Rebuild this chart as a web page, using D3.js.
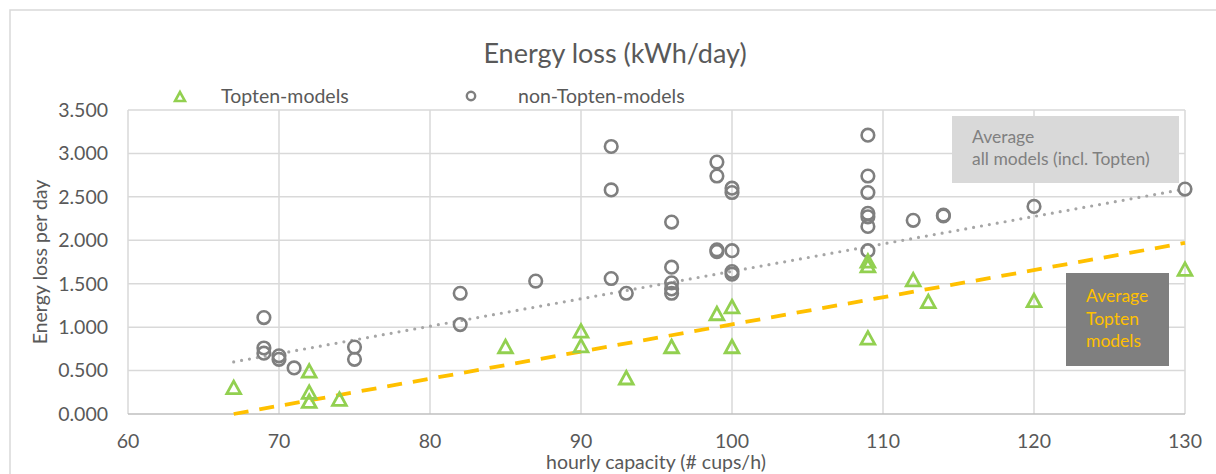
<!DOCTYPE html>
<html>
<head>
<meta charset="utf-8">
<script src="https://cdn.jsdelivr.net/npm/d3@7"></script>
<style>
  html, body { margin: 0; padding: 0; background: #fff; }
  svg { display: block; font-family: Lato, "Open Sans", sans-serif; }
</style>
</head>
<body>
<div id="chart"></div>
<script>
// Topten models (triangles)
const toptenX = [67, 72, 72, 72, 74, 85, 90, 90, 93, 96, 99, 100, 100, 109, 109, 109, 112, 113, 120, 130];
const toptenY = [0.30, 0.49, 0.245, 0.14, 0.165, 0.77, 0.95, 0.78, 0.41, 0.77, 1.15, 1.23, 0.77, 1.755, 1.70, 0.87, 1.54, 1.29, 1.30, 1.66];

// non-Topten models (circles)
const otherX = [69, 69, 69, 70, 70, 71, 75, 75, 82, 82, 87, 92, 92, 92, 93, 96, 96, 96, 96, 96,
                99, 99, 99, 99, 100, 100, 100, 100, 100, 109, 109, 109, 109, 109, 109, 109, 112, 114, 114, 120, 130];
const otherY = [1.11, 0.76, 0.70, 0.67, 0.63, 0.53, 0.77, 0.63, 1.39, 1.03, 1.53, 3.08, 2.58, 1.56, 1.39, 2.21, 1.69, 1.51, 1.44, 1.39,
                2.90, 2.74, 1.89, 1.87, 2.60, 2.55, 1.88, 1.64, 1.61, 3.21, 2.74, 2.55, 2.31, 2.27, 2.16, 1.88, 2.23, 2.29, 2.28, 2.39, 2.59];

// trendlines (end points)
const trendAllX = [67, 130];
const trendAllY = [0.60, 2.59];
const trendTopX = [67, 130];
const trendTopY = [0.00, 1.97];

const xTicks = [60, 70, 80, 90, 100, 110, 120, 130];
const yTicks = [0, 0.5, 1, 1.5, 2, 2.5, 3, 3.5];

const W = 1216, H = 474;
const plot = { left: 128, right: 1185, top: 110, bottom: 414 };
const GRID = "#d9d9d9", TXT = "#595959";

const svg = d3.select("#chart").append("svg")
  .attr("width", W).attr("height", H);

// chart frame
svg.append("rect")
  .attr("x", 10).attr("y", 10)
  .attr("width", 1240).attr("height", 500)
  .attr("fill", "#fff").attr("stroke", GRID).attr("stroke-width", 1.5);

const x = d3.scaleLinear().domain([60, 130]).range([plot.left, plot.right]);
const y = d3.scaleLinear().domain([0, 3.5]).range([plot.bottom, plot.top]);

// gridlines
svg.append("g").selectAll("line.v")
  .data(xTicks)
  .join("line")
  .attr("x1", d => x(d)).attr("x2", d => x(d))
  .attr("y1", plot.top).attr("y2", plot.bottom)
  .attr("stroke", GRID).attr("stroke-width", 1.5);

svg.append("g").selectAll("line.h")
  .data(yTicks)
  .join("line")
  .attr("x1", plot.left).attr("x2", plot.right)
  .attr("y1", d => y(d)).attr("y2", d => y(d))
  .attr("stroke", d => d === 0 ? "#bfbfbf" : GRID).attr("stroke-width", 1.5);

// tick labels
const fmt = d3.format(".3f");
svg.append("g").selectAll("text")
  .data(yTicks)
  .join("text")
  .attr("x", 108).attr("y", d => y(d))
  .attr("dy", "0.35em")
  .attr("text-anchor", "end")
  .attr("font-size", 19.5).attr("fill", TXT)
  .text(d => fmt(d));

svg.append("g").selectAll("text")
  .data(xTicks)
  .join("text")
  .attr("x", d => x(d)).attr("y", 448)
  .attr("text-anchor", "middle")
  .attr("font-size", 19.5).attr("fill", TXT)
  .text(d => d);

// axis titles + chart title
svg.append("text")
  .attr("transform", `translate(47,${(plot.top + plot.bottom) / 2}) rotate(-90)`)
  .attr("text-anchor", "middle")
  .attr("font-size", 19.5).attr("fill", TXT)
  .text("Energy loss per day");

svg.append("text")
  .attr("x", 656).attr("y", 469)
  .attr("text-anchor", "middle")
  .attr("font-size", 19.5).attr("fill", TXT)
  .text("hourly capacity (# cups/h)");

svg.append("text")
  .attr("x", 615).attr("y", 63)
  .attr("text-anchor", "middle")
  .attr("font-size", 27).attr("fill", TXT)
  .text("Energy loss (kWh/day)");

// text boxes
const boxAll = svg.append("g");
boxAll.append("rect")
  .attr("x", 952).attr("y", 116).attr("width", 227).attr("height", 67)
  .attr("fill", "#d9d9d9");
boxAll.selectAll("text")
  .data(["Average", "all models (incl. Topten)"])
  .join("text")
  .attr("x", 972).attr("y", (d, i) => 143 + i * 22)
  .attr("font-size", 17.5).attr("fill", "#808080")
  .text(d => d);

const boxTop = svg.append("g");
boxTop.append("rect")
  .attr("x", 1066).attr("y", 273).attr("width", 103).attr("height", 93)
  .attr("fill", "#7f7f7f");
boxTop.selectAll("text")
  .data(["Average", "Topten", "models"])
  .join("text")
  .attr("x", 1086).attr("y", (d, i) => 302 + i * 22.5)
  .attr("font-size", 17.5).attr("fill", "#ffc000")
  .text(d => d);

// trendlines
const line = d3.line().x(d => x(d[0])).y(d => y(d[1]));

svg.append("path")
  .datum(d3.zip(trendAllX, trendAllY))
  .attr("d", line)
  .attr("fill", "none")
  .attr("stroke", "#a6a6a6").attr("stroke-width", 3.2)
  .attr("stroke-linecap", "round")
  .attr("stroke-dasharray", "0,8");

svg.append("path")
  .datum(d3.zip(trendTopX, trendTopY))
  .attr("d", line)
  .attr("fill", "none")
  .attr("stroke", "#ffc000").attr("stroke-width", 3.8)
  .attr("stroke-dasharray", "15,11");

// markers
const tri = s => `M0,${-s * 0.55}L${s * 0.55},${s * 0.45}L${-s * 0.55},${s * 0.45}Z`;

svg.append("g").selectAll("circle")
  .data(d3.zip(otherX, otherY))
  .join("circle")
  .attr("cx", d => x(d[0])).attr("cy", d => y(d[1]))
  .attr("r", 6.3)
  .attr("fill", "none").attr("stroke", "#7f7f7f").attr("stroke-width", 2.6);

svg.append("g").selectAll("path")
  .data(d3.zip(toptenX, toptenY))
  .join("path")
  .attr("transform", d => `translate(${x(d[0])},${y(d[1])})`)
  .attr("d", tri(12.5))
  .attr("fill", "none").attr("stroke", "#92d050").attr("stroke-width", 2.8)
  .attr("stroke-linejoin", "miter");

// legend
const legend = svg.append("g");
legend.append("path")
  .attr("transform", "translate(180,97)")
  .attr("d", tri(9))
  .attr("fill", "none").attr("stroke", "#92d050").attr("stroke-width", 2.6);
legend.append("text")
  .attr("x", 221).attr("y", 103)
  .attr("font-size", 19.5).attr("fill", TXT)
  .text("Topten-models");
legend.append("circle")
  .attr("cx", 471).attr("cy", 96).attr("r", 4.2)
  .attr("fill", "none").attr("stroke", "#7f7f7f").attr("stroke-width", 2.4);
legend.append("text")
  .attr("x", 518).attr("y", 103)
  .attr("font-size", 19.5).attr("fill", TXT)
  .text("non-Topten-models");
</script>
</body>
</html>
